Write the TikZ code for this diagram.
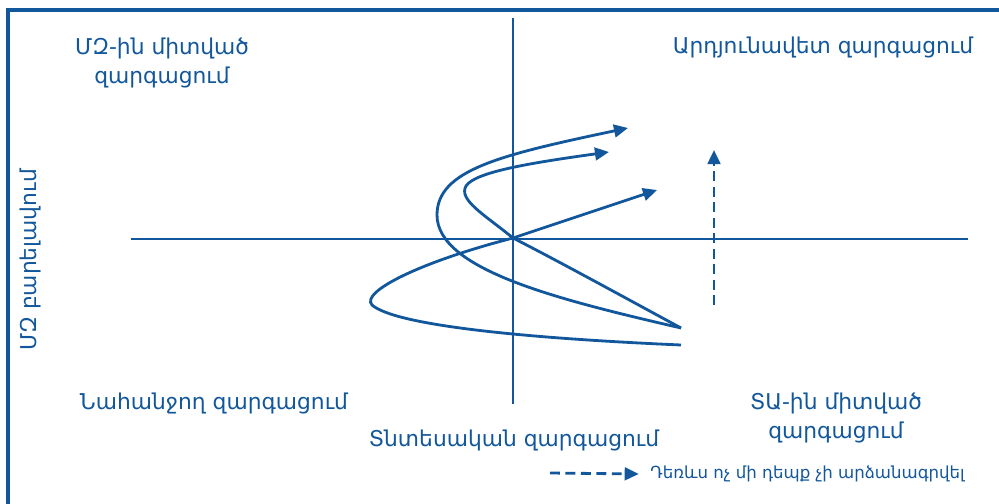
\documentclass[tikz,border=0pt]{standalone}
\usepackage{fontspec}
\setmainfont{DejaVu Sans}
\usetikzlibrary{arrows.meta, positioning}
\definecolor{hdblue}{HTML}{12579B}

\begin{document}
\begin{tikzpicture}[x=0.025cm, y=-0.025cm, >={Triangle[length=10pt,width=9pt]},
  axis/.style={draw=hdblue, line width=1.4pt},
  trend/.style={draw=hdblue, line width=2pt, ->},
  dasharrow/.style={draw=hdblue, line width=2pt, dash pattern=on 7pt off 4pt, ->},
  quad/.style={text=hdblue, font=\fontsize{15.5}{20}\selectfont, align=center, inner sep=0pt},
  legtext/.style={text=hdblue, font=\fontsize{11.8}{14}\selectfont, inner sep=0pt}]
  \useasboundingbox (0,0) rectangle (999,504);
  % frame
  \draw[hdblue, line width=2.2pt] (8,504) |- (1010,10);
  % axes
  \coordinate (xl) at (131,239);
  \coordinate (xr) at (968,239);
  \coordinate (yt) at (513,18);
  \coordinate (yb) at (513,404);
  \coordinate (o) at (513,238);
  \draw[axis] (xl) -- (xr);
  \draw[axis] (yt) -- (yb);
  % quadrant labels
  \node[quad] (hdled) at (162,63) {ՄԶ-ին միտված\\զարգացում};
  \node[quad] (virtuous) at (823,47) {Արդյունավետ զարգացում};
  \node[quad, rotate=90] (hdaxis) at (30,260) {ՄԶ բարելավում};
  \node[quad] (vicious) at (214,403) {Նահանջող զարգացում};
  \node[quad] (egaxis) at (514,440) {Տնտեսական զարգացում};
  \node[quad] (egled) at (836,418) {ՏԱ-ին միտված\\զարգացում};
  % trajectories
  \coordinate (a0) at (681,345);
  \coordinate (a1) at (657,190);
  \coordinate (b0) at (681,328);
  \coordinate (b1) at (628,128);
  \coordinate (c1) at (609,152);
  \draw[trend] (a0) .. controls (520,338) and (395,325) .. (372,305)
    .. controls (360,292) and (420,262) .. (o) -- (a1);
  \draw[trend] (b0) .. controls (560,300) and (437,270) .. (437,215)
    .. controls (437,170) and (500,155) .. (b1);
  \draw[trend] (b0) .. controls (620,295) and (560,262) .. (o)
    .. controls (485,215) and (458,200) .. (466,186)
    .. controls (475,172) and (530,163) .. (c1);
  % no case yet
  \coordinate (up0) at (714,305);
  \coordinate (up1) at (714,150);
  \draw[dasharrow] (up0) -- (up1);
  % legend
  \node[legtext, anchor=west] (legend) at (650,474) {Դեռևս ոչ մի դեպք չի արձանագրվել};
  \coordinate (leg0) at (550,473);
  \draw[dasharrow] (leg0) -- ([xshift=-8pt]legend.west);
\end{tikzpicture}
\end{document}
